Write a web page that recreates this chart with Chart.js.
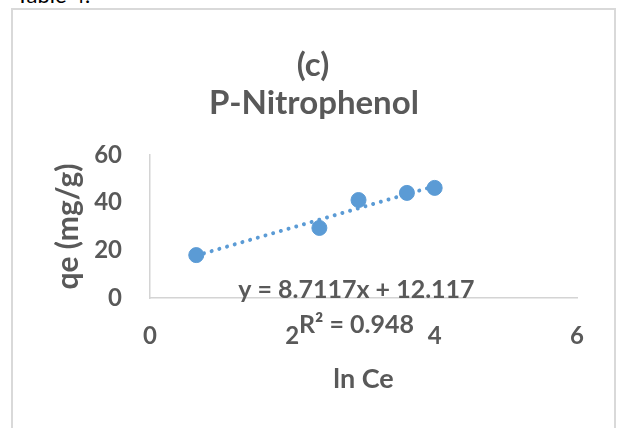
<!DOCTYPE html>
<html>
<head>
<meta charset="utf-8">
<script src="https://cdn.jsdelivr.net/npm/chart.js@4.4.1/dist/chart.umd.min.js"></script>
<style>
  html, body { margin: 0; padding: 0; background: #fff; overflow: hidden; }
  #wrap { position: relative; width: 618px; height: 428px; }
  #frame { position: absolute; left: 11px; top: 8px; width: 601px; height: 440px; border: 2px solid #d9d9d9; }
  #above { position: absolute; left: 16px; top: -19px; font: 22px Lato, sans-serif; color: #000; white-space: nowrap; }
  canvas { position: absolute; left: 0; top: 0; }
</style>
</head>
<body>
<div id="wrap">
  <div id="above">Table 4.</div>
  <div id="frame"></div>
  <canvas id="chart" width="618" height="428"></canvas>
</div>
<script>
// P-Nitrophenol, (c): qe vs ln Ce with linear trendline
const lnCe = [0.65, 2.38, 2.93, 3.61, 4.0];
const qe = [18.0, 29.4, 41.1, 44.1, 46.2];

const slope = 8.7117;
const intercept = 12.117;
const eqLines = ['y = 8.7117x + 12.117', 'R² = 0.948'];
const eqAnchor = [2.9, 0];   // where the label's first baseline sits, in data units

const titleLines = ['(c)', 'P-Nitrophenol'];
const xTitle = 'ln Ce';
const yTitle = 'qe (mg/g)';

const TEXT = '#595959';
const BLUE = '#5b9bd5';
const AXIS = '#d4d4d4';
const tickFont = {family: 'Lato', size: 24, weight: '700'};

const trendX = [lnCe[0], lnCe[lnCe.length - 1]];
const trend = trendX.map(x => ({x, y: slope * x + intercept}));

const overlay = {
  id: 'overlay',
  afterDraw(chart) {
    const c = chart.ctx;
    c.save();
    c.fillStyle = TEXT;
    c.textAlign = 'center';
    c.textBaseline = 'alphabetic';
    c.font = '700 33px Lato';
    c.fillText(titleLines[0], 313, 76);
    c.fillText(titleLines[1], 314, 114);

    const xs = chart.scales.x, ys = chart.scales.y;
    const px = xs.getPixelForValue(eqAnchor[0]);
    const py = ys.getPixelForValue(eqAnchor[1]);
    c.font = '700 25px Lato';
    eqLines.forEach((t, i) => c.fillText(t, px, py + i * 35));
    c.restore();
  }
};

new Chart(document.getElementById('chart'), {
  type: 'scatter',
  data: {
    datasets: [
      {
        label: 'qe',
        data: lnCe.map((x, i) => ({x, y: qe[i]})),
        backgroundColor: BLUE,
        borderColor: BLUE,
        pointRadius: 7.5,
        pointHoverRadius: 7.5,
        order: 1,
      },
      {
        type: 'line',
        label: 'Linear',
        data: trend,
        borderColor: BLUE,
        borderWidth: 4,
        borderDash: [0.01, 8],
        borderCapStyle: 'round',
        pointRadius: 0,
        fill: false,
        order: 2,
      },
    ],
  },
  options: {
    responsive: false,
    animation: false,
    devicePixelRatio: 1,
    layout: {padding: {top: 155, right: 41, bottom: 0, left: 0}},
    plugins: {legend: {display: false}, tooltip: {enabled: false}, title: {display: false}},
    scales: {
      x: {
        type: 'linear', min: 0, max: 6,
        afterFit: s => { s.height = 130; },
        ticks: {stepSize: 2, color: TEXT, padding: 24, font: tickFont},
        grid: {display: false, drawTicks: false},
        border: {display: true, color: AXIS, width: 1.5},
        title: {display: true, text: xTitle, color: TEXT, padding: {top: 0, bottom: 33}, font: {family: 'Lato', size: 27, weight: '700'}},
      },
      y: {
        min: 0, max: 60,
        afterFit: s => { s.width = 150; },
        ticks: {stepSize: 20, color: TEXT, padding: 28, font: tickFont},
        grid: {display: false, drawTicks: false},
        border: {display: true, color: AXIS, width: 1.5},
        title: {display: true, text: yTitle, color: TEXT, padding: {top: 50, bottom: 0}, font: {family: 'Lato', size: 30, weight: '700'}},
      },
    },
  },
  plugins: [overlay],
});
</script>
</body>
</html>
